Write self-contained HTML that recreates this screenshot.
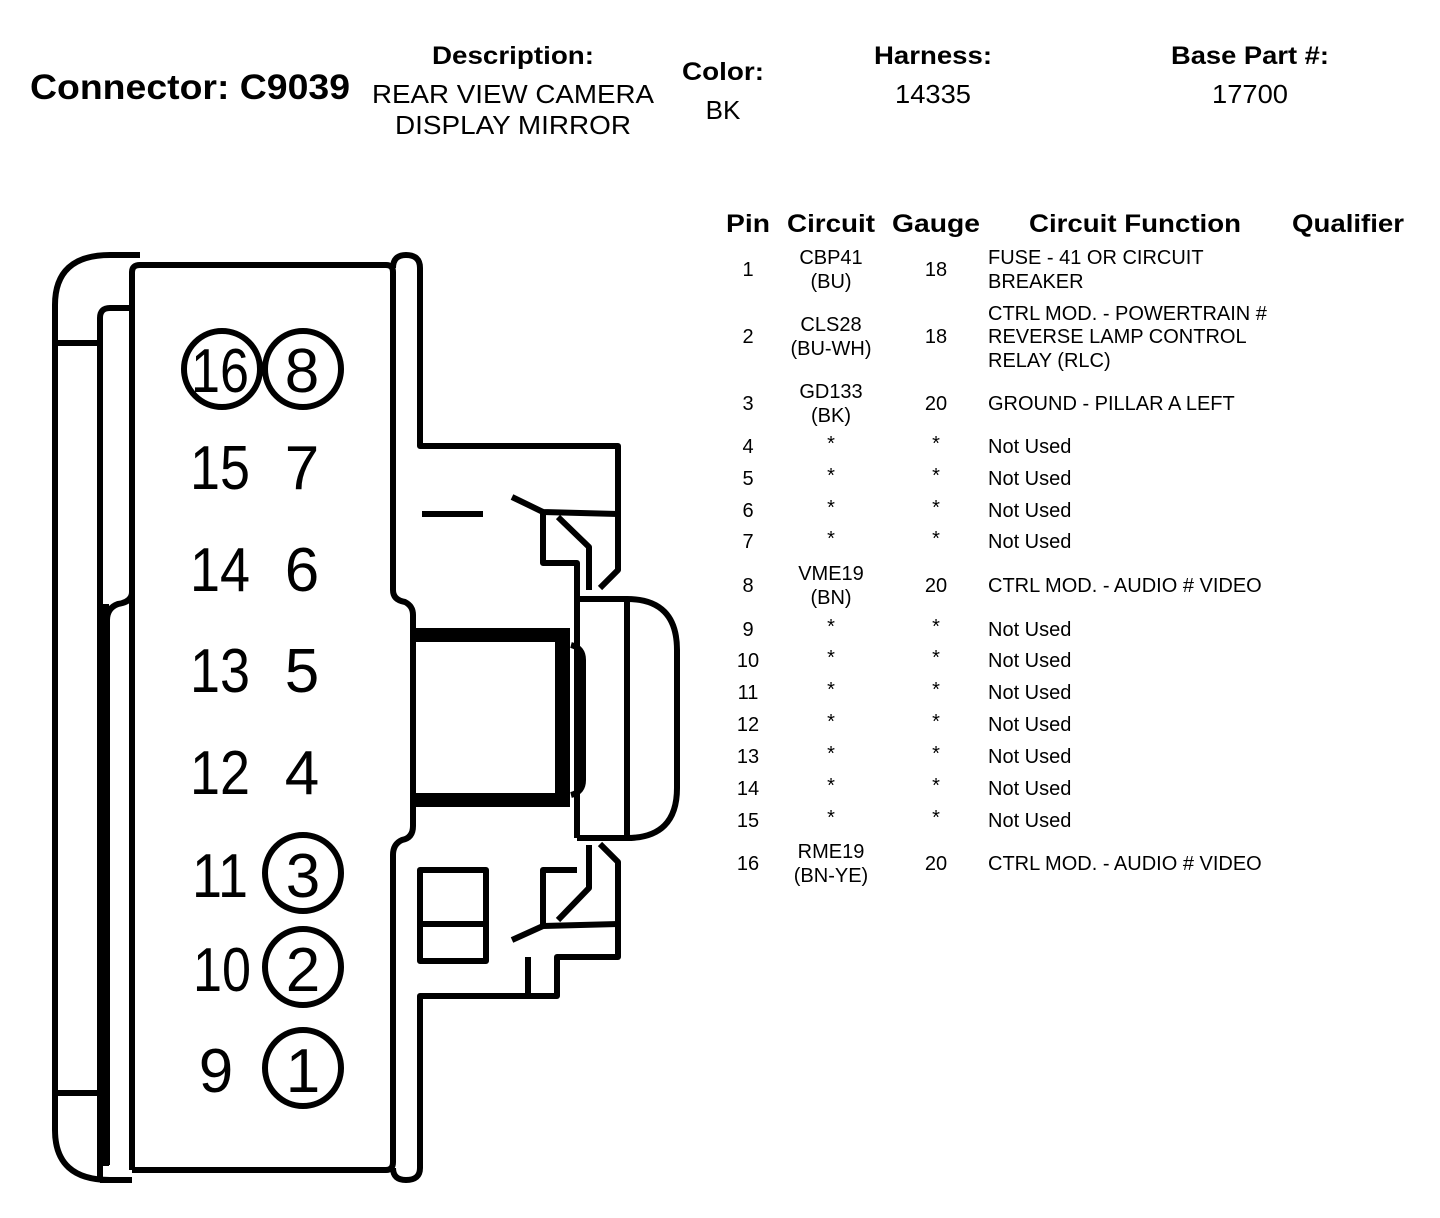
<!DOCTYPE html>
<html><head><meta charset="utf-8"><style>
html,body{margin:0;padding:0;background:#fff;}
svg{display:block;}
text{font-family:"Liberation Sans",sans-serif;fill:#000;}
.b{font-weight:bold;}
</style></head><body>
<svg width="1440" height="1218" viewBox="0 0 1440 1218" xmlns="http://www.w3.org/2000/svg">
<!-- header -->
<text x="30" y="99" class="b" font-size="35" textLength="320" lengthAdjust="spacingAndGlyphs">Connector: C9039</text>
<text x="513" y="64" class="b" font-size="25" text-anchor="middle" textLength="162" lengthAdjust="spacingAndGlyphs">Description:</text>
<text x="513" y="103" font-size="26" text-anchor="middle" textLength="282" lengthAdjust="spacingAndGlyphs">REAR VIEW CAMERA</text>
<text x="513" y="134" font-size="26" text-anchor="middle" textLength="236" lengthAdjust="spacingAndGlyphs">DISPLAY MIRROR</text>
<text x="723" y="80" class="b" font-size="25" text-anchor="middle" textLength="82" lengthAdjust="spacingAndGlyphs">Color:</text>
<text x="723" y="119" font-size="26" text-anchor="middle">BK</text>
<text x="933" y="64" class="b" font-size="25" text-anchor="middle" textLength="118" lengthAdjust="spacingAndGlyphs">Harness:</text>
<text x="933" y="103" font-size="26" text-anchor="middle" textLength="76" lengthAdjust="spacingAndGlyphs">14335</text>
<text x="1250" y="64" class="b" font-size="25" text-anchor="middle" textLength="158" lengthAdjust="spacingAndGlyphs">Base Part #:</text>
<text x="1250" y="103" font-size="26" text-anchor="middle" textLength="76" lengthAdjust="spacingAndGlyphs">17700</text>

<!-- table header -->
<g font-size="25">
<text x="748" y="232" text-anchor="middle" textLength="44" lengthAdjust="spacingAndGlyphs" font-weight="bold">Pin</text>
<text x="831" y="232" text-anchor="middle" textLength="88" lengthAdjust="spacingAndGlyphs" font-weight="bold">Circuit</text>
<text x="936" y="232" text-anchor="middle" textLength="88" lengthAdjust="spacingAndGlyphs" font-weight="bold">Gauge</text>
<text x="1135" y="232" text-anchor="middle" textLength="212" lengthAdjust="spacingAndGlyphs" font-weight="bold">Circuit Function</text>
<text x="1348" y="232" text-anchor="middle" textLength="112" lengthAdjust="spacingAndGlyphs" font-weight="bold">Qualifier</text>
</g>
<g font-size="20">
<text x="748" y="276" text-anchor="middle">1</text>
<text x="831" y="264" text-anchor="middle">CBP41</text>
<text x="831" y="288" text-anchor="middle">(BU)</text>
<text x="936" y="276" text-anchor="middle">18</text>
<text x="988" y="264">FUSE - 41 OR CIRCUIT</text>
<text x="988" y="288">BREAKER</text>

<text x="748" y="343" text-anchor="middle">2</text>
<text x="831" y="331" text-anchor="middle">CLS28</text>
<text x="831" y="355" text-anchor="middle">(BU-WH)</text>
<text x="936" y="343" text-anchor="middle">18</text>
<text x="988" y="320">CTRL MOD. - POWERTRAIN #</text>
<text x="988" y="343">REVERSE LAMP CONTROL</text>
<text x="988" y="367">RELAY (RLC)</text>

<text x="748" y="410" text-anchor="middle">3</text>
<text x="831" y="398" text-anchor="middle">GD133</text>
<text x="831" y="422" text-anchor="middle">(BK)</text>
<text x="936" y="410" text-anchor="middle">20</text>
<text x="988" y="410">GROUND - PILLAR A LEFT</text>

<text x="748" y="453" text-anchor="middle">4</text><text x="831" y="450" text-anchor="middle">*</text><text x="936" y="450" text-anchor="middle">*</text><text x="988" y="453">Not Used</text>
<text x="748" y="485" text-anchor="middle">5</text><text x="831" y="482" text-anchor="middle">*</text><text x="936" y="482" text-anchor="middle">*</text><text x="988" y="485">Not Used</text>
<text x="748" y="517" text-anchor="middle">6</text><text x="831" y="514" text-anchor="middle">*</text><text x="936" y="514" text-anchor="middle">*</text><text x="988" y="517">Not Used</text>
<text x="748" y="548" text-anchor="middle">7</text><text x="831" y="545" text-anchor="middle">*</text><text x="936" y="545" text-anchor="middle">*</text><text x="988" y="548">Not Used</text>

<text x="748" y="592" text-anchor="middle">8</text>
<text x="831" y="580" text-anchor="middle">VME19</text>
<text x="831" y="604" text-anchor="middle">(BN)</text>
<text x="936" y="592" text-anchor="middle">20</text>
<text x="988" y="592">CTRL MOD. - AUDIO # VIDEO</text>

<text x="748" y="636" text-anchor="middle">9</text><text x="831" y="633" text-anchor="middle">*</text><text x="936" y="633" text-anchor="middle">*</text><text x="988" y="636">Not Used</text>
<text x="748" y="667" text-anchor="middle">10</text><text x="831" y="664" text-anchor="middle">*</text><text x="936" y="664" text-anchor="middle">*</text><text x="988" y="667">Not Used</text>
<text x="748" y="699" text-anchor="middle">11</text><text x="831" y="696" text-anchor="middle">*</text><text x="936" y="696" text-anchor="middle">*</text><text x="988" y="699">Not Used</text>
<text x="748" y="731" text-anchor="middle">12</text><text x="831" y="728" text-anchor="middle">*</text><text x="936" y="728" text-anchor="middle">*</text><text x="988" y="731">Not Used</text>
<text x="748" y="763" text-anchor="middle">13</text><text x="831" y="760" text-anchor="middle">*</text><text x="936" y="760" text-anchor="middle">*</text><text x="988" y="763">Not Used</text>
<text x="748" y="795" text-anchor="middle">14</text><text x="831" y="792" text-anchor="middle">*</text><text x="936" y="792" text-anchor="middle">*</text><text x="988" y="795">Not Used</text>
<text x="748" y="827" text-anchor="middle">15</text><text x="831" y="824" text-anchor="middle">*</text><text x="936" y="824" text-anchor="middle">*</text><text x="988" y="827">Not Used</text>

<text x="748" y="870" text-anchor="middle">16</text>
<text x="831" y="858" text-anchor="middle">RME19</text>
<text x="831" y="882" text-anchor="middle">(BN-YE)</text>
<text x="936" y="870" text-anchor="middle">20</text>
<text x="988" y="870">CTRL MOD. - AUDIO # VIDEO</text>
</g>

<!-- connector drawing -->
<g fill="none" stroke="#000" stroke-width="6" stroke-linejoin="round">
<path d="M55 1130 L55 305 Q55 255 110 255 L140 255"/>
<path d="M110 1180 Q55 1180 55 1130"/>
<path d="M55 343 L100 343"/>
<path d="M55 1093 L100 1093"/>
<path d="M100 1178 L100 318 Q100 308 110 308 L132 308"/>
<path d="M132 1170 L132 272 Q132 265 140 265 L386 265 Q393 265 393 272 L393 590 Q393 600 405 602 Q413 606 413 615 L413 826 Q413 838 402 840 Q393 844 393 855 L393 1162 Q393 1170 386 1170 L132 1170"/>
<path d="M132 592 Q132 602 118 604 Q107 608 107 620 L107 1165"/>
<path d="M100 1180 L132 1180"/>
<path d="M393 268 Q393 255 406 255 Q420 255 420 268 L420 446 L618 446 L618 570 L600 588"/>
<path d="M393 1168 Q393 1180 406 1180 Q420 1180 420 1168 L420 996 L557 996 L557 957 L618 957 L618 862 L600 844"/>
<path d="M528 996 L528 957"/>
<path d="M422 514 L483 514"/>
<path d="M512 497 L543 512 L618 514"/>
<path d="M543 514 L543 563 L577 563 L577 838"/>
<path d="M558 517 L589 547 L589 590"/>
<path d="M512 940 L543 926 L618 924"/>
<path d="M543 924 L543 870 L577 870"/>
<path d="M558 920 L589 888 L589 845"/>
<rect x="420" y="870" width="66" height="91"/>
<path d="M420 924 L486 924"/>
<path d="M577 599 L627 599 L627 838 L577 838"/>
<path d="M627 599 Q677 599 677 650 L677 788 Q677 838 627 838"/>
<path d="M571 645 Q583 648 583 660 L583 780 Q583 792 571 795"/>
</g>
<rect x="413" y="628" width="157" height="14" fill="#000"/>
<rect x="413" y="793" width="157" height="14" fill="#000"/>
<rect x="555" y="628" width="15" height="179" fill="#000"/>
<rect x="97" y="604" width="12" height="562" fill="#000"/>

<!-- pin numbers -->
<g font-size="62" text-anchor="middle">
<text x="220" y="392" textLength="58" lengthAdjust="spacingAndGlyphs">16</text><text x="302" y="392">8</text>
<text x="220" y="489" textLength="60" lengthAdjust="spacingAndGlyphs">15</text><text x="302" y="489">7</text>
<text x="220" y="591" textLength="60" lengthAdjust="spacingAndGlyphs">14</text><text x="302" y="591">6</text>
<text x="220" y="692" textLength="60" lengthAdjust="spacingAndGlyphs">13</text><text x="302" y="692">5</text>
<text x="220" y="794" textLength="60" lengthAdjust="spacingAndGlyphs">12</text><text x="302" y="794">4</text>
<text x="220" y="897" textLength="56" lengthAdjust="spacingAndGlyphs">11</text><text x="303" y="897">3</text>
<text x="222" y="991" textLength="58" lengthAdjust="spacingAndGlyphs">10</text><text x="303" y="991">2</text>
<text x="216" y="1092">9</text><text x="303" y="1092">1</text>
</g>
<g fill="none" stroke="#000" stroke-width="6">
<circle cx="222" cy="369" r="38"/>
<circle cx="303" cy="369" r="38"/>
<circle cx="303" cy="873" r="38"/>
<circle cx="303" cy="967" r="38"/>
<circle cx="303" cy="1068" r="38"/>
</g>
</svg>
</body></html>
